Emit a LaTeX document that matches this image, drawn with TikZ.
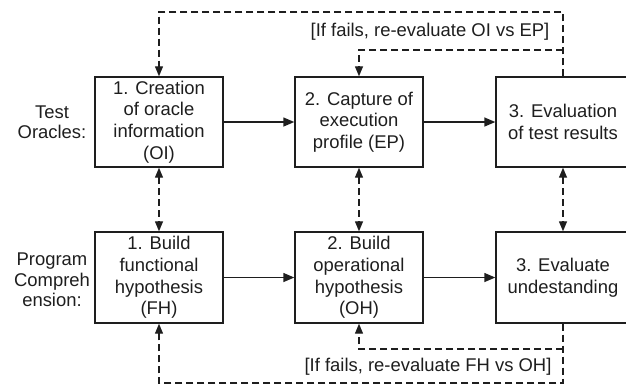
\documentclass[tikz,border=0pt]{standalone}
\usepackage{fontspec}
\setmainfont{Liberation Sans}
\usetikzlibrary{arrows.meta}
\definecolor{ink}{HTML}{1E1E1E}
\begin{document}
\begin{tikzpicture}[x=1bp,y=-1bp,
  every node/.style={text=ink, font=\fontsize{18.5}{21.7}\selectfont},
  stepbox/.style={draw=ink, line width=1.4bp, minimum width=128bp, minimum height=90bp,
                  align=center, inner sep=2bp},
  rowlabel/.style={align=center, font=\fontsize{18.5}{20.5}\selectfont},
  flow/.style={draw=ink, line width=1.4bp, -{Triangle[length=11bp,width=9bp]}},
  link/.style={draw=ink, line width=1.3bp, dash pattern=on 7bp off 4bp,
               {Triangle[length=10bp,width=8bp]}-{Triangle[length=10bp,width=8bp]}},
  retry/.style={draw=ink, line width=1.3bp, dash pattern=on 7bp off 4bp,
                -{Triangle[length=10bp,width=8bp]}},
  retryline/.style={draw=ink, line width=1.3bp, dash pattern=on 7bp off 4bp}]
  \useasboundingbox (0,0) rectangle (626,385);
  \clip (0,0) rectangle (626,385);

  % row labels
  \node[rowlabel] (lab1) at (52,122) {Test\\Oracles:};
  \node[rowlabel] (lab2) at (52,280) {Program\\Compreh\\ension:};

  % test oracle steps
  \node[stepbox] (t1) at (159,122) {1. Creation\\of oracle\\information\\(OI)};
  \node[stepbox] (t2) at (359,122) {2. Capture of\\execution\\profile (EP)};
  \node[stepbox, minimum width=134bp] (t3) at (563,122) {3. Evaluation\\of test results};

  % program comprehension steps
  \node[stepbox, minimum height=91bp] (p1) at (159,277.5) {1. Build\\functional\\hypothesis\\(FH)};
  \node[stepbox, minimum height=91bp] (p2) at (359,277.5) {2. Build\\operational\\hypothesis\\(OH)};
  \node[stepbox, minimum height=91bp, minimum width=134bp] (p3) at (563,277.5) {3. Evaluate\\undestanding};

  % forward flow
  \draw[flow] (t1) -- (t2);
  \draw[flow] (t2) -- (t3);
  \draw[flow] (p1) -- (p2);
  \draw[flow] (p2) -- (p3);

  % correspondences between the two processes
  \draw[link] (t1) -- (p1);
  \draw[link] (t2) -- (p2);
  \draw[link] (t3) -- (p3);

  % feedback loop of the test oracle process
  \coordinate (topleft) at (159,12);
  \coordinate (topjoin) at (563,50);
  \draw[retry] (t3.north) |- (topleft) -- (t1.north);
  \draw[retry] (topjoin) -| (t2.north);
  \node (fail1) at (430,32) {[If fails, re-evaluate OI vs EP]};

  % feedback loop of the comprehension process
  \coordinate (botleft) at (159,383);
  \coordinate (botjoin) at (563,349);
  \draw[retry] (p3.south) |- (botleft) -- (p1.south);
  \draw[retry] (botjoin) -| (p2.south);
  \node (fail2) at (428,367) {[If fails, re-evaluate FH vs OH]};
\end{tikzpicture}
\end{document}
